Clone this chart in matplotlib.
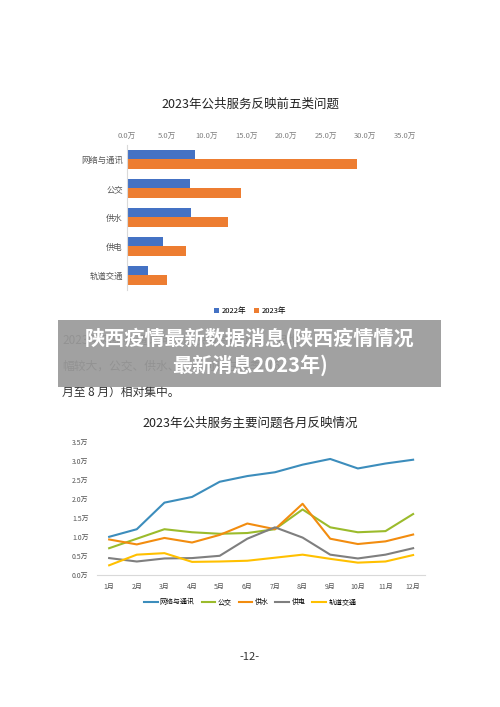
import matplotlib
matplotlib.use("Agg")
import matplotlib.pyplot as plt
import numpy as np

plt.rcParams['font.family'] = ['Noto Sans CJK SC', 'DejaVu Sans']

cats = ['网络与通讯', '公交', '供水', '供电', '轨道交通']
v2022 = [8.5, 7.9, 8.1, 4.5, 2.6]
v2023 = [29.0, 14.3, 12.7, 7.4, 5.0]
xticks_top = [0, 5, 10, 15, 20, 25, 30, 35]

months = ['1月', '2月', '3月', '4月', '5月', '6月', '7月', '8月', '9月', '10月', '11月', '12月']
net = [1.0, 1.2, 1.9, 2.05, 2.45, 2.6, 2.7, 2.9, 3.05, 2.8, 2.93, 3.03]
bus = [0.7, 0.95, 1.2, 1.12, 1.08, 1.1, 1.2, 1.72, 1.25, 1.12, 1.15, 1.6]
water = [0.93, 0.8, 0.97, 0.85, 1.05, 1.35, 1.2, 1.87, 0.95, 0.81, 0.88, 1.06]
power = [0.44, 0.35, 0.43, 0.44, 0.5, 0.95, 1.25, 0.98, 0.53, 0.43, 0.53, 0.7]
rail = [0.25, 0.53, 0.57, 0.34, 0.35, 0.37, 0.45, 0.53, 0.42, 0.32, 0.35, 0.52]
yticks_bot = [0, 0.5, 1.0, 1.5, 2.0, 2.5, 3.0, 3.5]

fig = plt.figure(figsize=(5, 7.07), dpi=100)
fig.patch.set_facecolor('white')

# top chart
ax = fig.add_axes([0.254, 0.590, 0.556, 0.205])
y = np.arange(len(cats))
h = 0.34
ax.barh(y - h/2, v2022, height=h, color='#4472C4', label='2022年')
ax.barh(y + h/2, v2023, height=h, color='#ED7D31', label='2023年')
ax.set_ylim(len(cats) - 0.5, -0.5)
ax.set_xlim(0, 35)
ax.set_xticks(xticks_top)
ax.set_xticklabels([f'{t:.1f}万' for t in xticks_top], fontsize=5.5, color='#7f7f7f')
ax.xaxis.tick_top()
ax.set_yticks(y)
ax.set_yticklabels(cats, fontsize=6, color='#555555')
ax.tick_params(length=0, pad=3)
for s in ['top', 'right', 'bottom']:
    ax.spines[s].set_visible(False)
ax.spines['left'].set_color('#d9d9d9')
fig.text(0.5, 0.853, '2023年公共服务反映前五类问题', ha='center', va='center', fontsize=9, color='#222222')
fig.legend(*ax.get_legend_handles_labels(), loc='center', bbox_to_anchor=(0.5, 0.560), ncol=2,
           frameon=False, fontsize=5.5, handlelength=0.7, handleheight=0.7, columnspacing=1.0, handletextpad=0.3)

# paragraph text (partly hidden behind the banner)
fig.text(0.125, 0.519, '2023年网络与通讯问题反映量持续上升，且增', fontsize=8.5, color='#333333', va='center')
fig.text(0.125, 0.482, '幅较大，公交、供水、供电问题在夏季（6', fontsize=8.5, color='#333333', va='center')
fig.text(0.125, 0.445, '月至 8 月）相对集中。', fontsize=8.5, color='#333333', va='center')

# banner
fig.patches.append(plt.Rectangle((0.116, 0.452), 0.766, 0.095, transform=fig.transFigure,
                                 facecolor='#9a9a9a', alpha=0.93, edgecolor='none', zorder=5))
fig.text(0.5, 0.522, '陕西疫情最新数据消息(陕西疫情情况', ha='center', va='center', fontsize=14.5,
         fontweight='bold', color='white', zorder=6)
fig.text(0.5, 0.483, '最新消息2023年)', ha='center', va='center', fontsize=14.5,
         fontweight='bold', color='white', zorder=6)

# bottom chart
ax2 = fig.add_axes([0.194, 0.187, 0.656, 0.188])
x = np.arange(1, 13)
series = [(net, '网络与通讯', '#3C8DBC'), (bus, '公交', '#9BBB2C'), (water, '供水', '#F28C0F'),
          (power, '供电', '#7F7F7F'), (rail, '轨道交通', '#FFC000')]
for vals, lab, col in series:
    ax2.plot(x, vals, color=col, lw=1.5, label=lab, solid_joinstyle='round')
ax2.set_xlim(0.56, 12.43)
ax2.set_ylim(0, 3.5)
ax2.set_yticks(yticks_bot)
ax2.set_yticklabels([f'{t:.1f}万' for t in yticks_bot], fontsize=5, color='#555555')
ax2.set_xticks(x)
ax2.set_xticklabels(months, fontsize=5, color='#555555')
ax2.tick_params(length=0, pad=6)
for s in ['top', 'right', 'left']:
    ax2.spines[s].set_visible(False)
ax2.spines['bottom'].set_color('#d9d9d9')
fig.text(0.5, 0.402, '2023年公共服务主要问题各月反映情况', ha='center', va='center', fontsize=9, color='#222222')
fig.legend(*ax2.get_legend_handles_labels(), loc='center', bbox_to_anchor=(0.5, 0.148), ncol=5,
           frameon=False, fontsize=5, handlelength=2.0, columnspacing=1.0, handletextpad=0.3)

fig.text(0.5, 0.071, '-12-', ha='center', va='center', fontsize=8, color='#333333')

fig.savefig('out.png', dpi=100)
